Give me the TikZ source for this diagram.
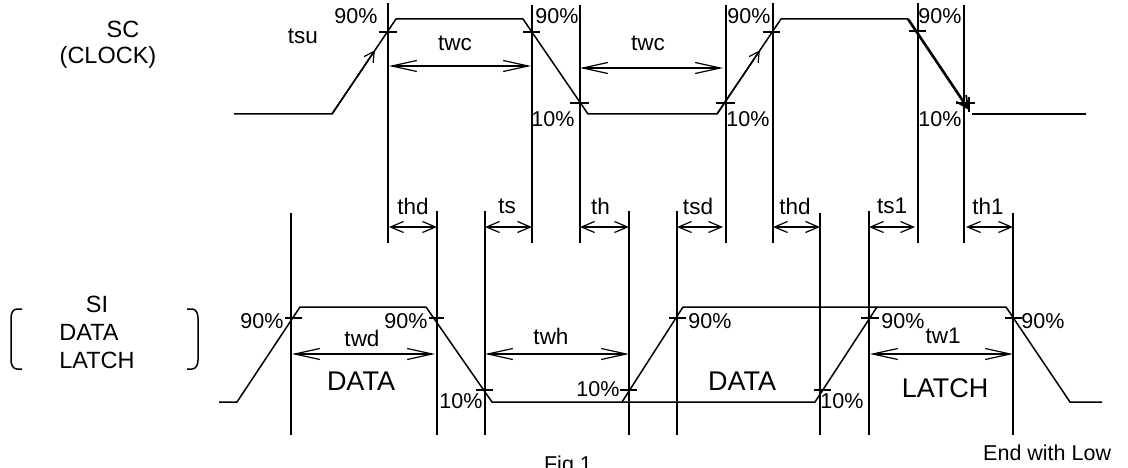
\documentclass[tikz,border=0pt]{standalone}
\usepackage{fontspec}
\setmainfont{Liberation Sans}
\usetikzlibrary{arrows.meta,calc}
\tikzset{
  line/.style={line width=1.5pt,black},
  thickline/.style={line width=2.6pt,black},
  guide/.style={line width=1.4pt,black},
  tickmark/.style={line width=1.3pt,black},
  bigdim/.style={line width=1.4pt,{Straight Barb[length=25pt,width=11pt,line width=1.2pt]}-{Straight Barb[length=25pt,width=11pt,line width=1.2pt]}},
  smalldim/.style={line width=1.4pt,{Straight Barb[length=13pt,width=11pt,line width=1.2pt]}-{Straight Barb[length=13pt,width=11pt,line width=1.2pt]}},
  slopearrow/.style={line width=1.5pt,-{Straight Barb[length=10pt,width=11pt,line width=1.2pt]}},
  lbl/.style={inner sep=0pt,font=\fontsize{21.5}{25}\selectfont},
  tlbl/.style={inner sep=0pt,font=\fontsize{22.5}{26}\selectfont},
  sidelbl/.style={inner sep=0pt,font=\fontsize{23.5}{27}\selectfont},
  biglbl/.style={inner sep=0pt,font=\fontsize{27}{32}\selectfont},
}
\begin{document}
\begin{tikzpicture}[x=1pt,y=-1pt]
\useasboundingbox (0,0) rectangle (1128,468);
\clip (0,0) rectangle (1128,468);
% clock waveform
\coordinate (c0) at (234,114); \coordinate (c1) at (332,114); \coordinate (c2) at (396,19);
\coordinate (c3) at (523,19); \coordinate (c4) at (588,114); \coordinate (c5) at (717,114);
\coordinate (c6) at (781,19); \coordinate (c7) at (908,19); \coordinate (c8) at (969,110);
\coordinate (c9) at (972,114); \coordinate (c10) at (1086,114);
\draw[line] (c0)--(c1)--(c2)--(c3)--(c4)--(c5)--(c6)--(c7);
\draw[line] (c9)--(c10);
\draw[thickline,-{Straight Barb[length=12pt,width=12pt,line width=1.8pt]}] (c7)--(c8);
\draw[slopearrow] (c1)--($(c1)!0.67!(c2)$);
\draw[slopearrow] (c5)--($(c5)!0.67!(c6)$);
% data waveform
\coordinate (d0) at (219,402); \coordinate (d1) at (237,402); \coordinate (d2) at (300,307);
\coordinate (d3) at (426,307); \coordinate (d4) at (492,402); \coordinate (d5) at (815,402);
\coordinate (d6) at (877,307); \coordinate (d7) at (1006,307); \coordinate (d8) at (1070,402);
\coordinate (d9) at (1102,402); \coordinate (d10) at (622,402); \coordinate (d11) at (683,307);
\draw[line] (d0)--(d1)--(d2)--(d3)--(d4)--(d5)--(d6)--(d7)--(d8)--(d9);
\draw[line] (d10)--(d11)--(d6);
% upper guides
\foreach \n/\x/\t in {a/388/3,b/532/5,c/580/5,e/726/5,f/773/3,g/918/3,h/964/5}{
  \coordinate (\n t) at (\x,\t);
  \coordinate (\n b) at (\x,243);
  \draw[guide] (\n t)--(\n b);
}
% lower guides
\foreach \n/\x/\t in {p/291/213,q/437/211,r/485/211,s/629/211,u/677/211,v/820/213,w/869/211,y/1013/213}{
  \coordinate (\n t) at (\x,\t);
  \coordinate (\n b) at (\x,435);
  \draw[guide] (\n t)--(\n b);
}
% ticks
\foreach \y/\xa/\xb in {32/379/397,32/523/540,103/570/589,103/716/735,32/763/780,31/909/926,
  318/285/302,318/429/444,390/476/493,390/620/637,318/669/686,390/814/831,318/861/879,318/1005/1022}{
  \draw[tickmark] (\xa,\y)--(\xb,\y);
}
\draw[line width=1.8pt] (956,103)--(975,103);
\draw[line width=1.8pt] (969,97)--(969,112);
% dimension arrows
\coordinate (dimA) at (0,66); \coordinate (dimB) at (0,68); \coordinate (dimC) at (0,227); \coordinate (dimD) at (0,354);
\draw[bigdim] ($(at |- dimA)+(1,0)$)--($(bt |- dimA)+(-1,0)$);
\draw[bigdim] (ct |- dimB)--($(et |- dimB)+(-3,0)$);
\draw[smalldim] ($(at |- dimC)+(1,0)$)--(qt |- dimC);
\draw[smalldim] (rt |- dimC)--(bt |- dimC);
\draw[smalldim] (ct |- dimC)--(st |- dimC);
\draw[smalldim] (ut |- dimC)--($(et |- dimC)+(-3,0)$);
\draw[smalldim] (ft |- dimC)--(vt |- dimC);
\draw[smalldim] (wt |- dimC)--($(gt |- dimC)+(-3,0)$);
\draw[smalldim] ($(ht |- dimC)+(2,0)$)--(yt |- dimC);
\draw[bigdim] ($(pt |- dimD)+(1,0)$)--($(qt |- dimD)+(-2,0)$);
\draw[bigdim] (rt |- dimD)--(st |- dimD);
\draw[bigdim] ($(wt |- dimD)+(1,0)$)--(yt |- dimD);
% brackets
\coordinate (br1) at (187,309); \coordinate (br2) at (198,318); \coordinate (br3) at (198,360); \coordinate (br4) at (187,369);
\draw[line] (br1) -- (192,309) to[out=0,in=90] (br2) -- (br3) to[out=-90,in=0] (192,369) -- (br4);
\coordinate (bl1) at (22,309); \coordinate (bl2) at (11,318); \coordinate (bl3) at (11,360); \coordinate (bl4) at (22,369);
\draw[line] (bl1) -- (17,309) to[out=180,in=90] (bl2) -- (bl3) to[out=-90,in=180] (17,369) -- (bl4);
% text
\node[sidelbl] (tsc) at (123,29) {SC};
\node[sidelbl] (tclk) at (108,57) {(CLOCK)};
\node[sidelbl] (tsi) at (97,304) {SI};
\node[sidelbl] (tdata) at (89,332) {DATA};
\node[sidelbl] (tlatch) at (97,360) {LATCH};
\node[tlbl] (ttsu) at (303,36) {tsu};
\node[lbl] (n1) at (356,16) {90\%};
\node[lbl] (n2) at (557,16) {90\%};
\node[lbl] (n3) at (553,119) {10\%};
\node[lbl] (n4) at (749,16) {90\%};
\node[lbl] (n5) at (748,119) {10\%};
\node[lbl] (n6) at (940,16) {90\%};
\node[lbl] (n7) at (940,119) {10\%};
\node[tlbl] (twc1) at (455,43) {twc};
\node[tlbl] (twc2) at (648,43) {twc};
\node[tlbl] (d1t) at (413,206) {thd};
\node[tlbl] (d2t) at (507,206) {ts};
\node[tlbl] (d3t) at (600.5,206) {th};
\node[tlbl] (d4t) at (698,206) {tsd};
\node[tlbl] (d5t) at (795,206) {thd};
\node[tlbl] (d6t) at (892,206) {ts1};
\node[tlbl] (d7t) at (988,206) {th1};
\node[lbl] (m1) at (262,321) {90\%};
\node[lbl] (m2) at (406,321) {90\%};
\node[lbl] (m3) at (461,401) {10\%};
\node[lbl] (m4) at (598,389) {10\%};
\node[lbl] (m5) at (710,321) {90\%};
\node[lbl] (m6) at (842,401) {10\%};
\node[lbl] (m7) at (903,321) {90\%};
\node[lbl] (m8) at (1043,321) {90\%};
\node[tlbl] (ttwd) at (362,338) {twd};
\node[tlbl] (ttwh) at (551,336) {twh};
\node[tlbl] (ttw1) at (943,336) {tw1};
\node[biglbl] (bd1) at (361,381) {DATA};
\node[biglbl] (bd2) at (742,381) {DATA};
\node[biglbl] (bl) at (945,388) {LATCH};
\node[lbl,anchor=west] (endl) at (983,453) {End with Low};
\node[lbl] (fig) at (568,466) {Fig.1};
\end{tikzpicture}
\end{document}
